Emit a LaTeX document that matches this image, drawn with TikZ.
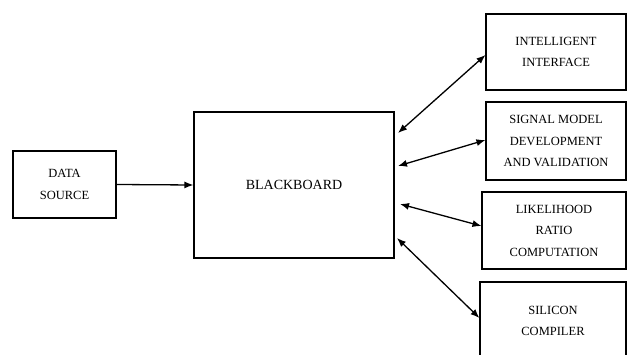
\documentclass[tikz,border=0pt]{standalone}
\usepackage{fontspec}
\setmainfont{Liberation Serif}
\usetikzlibrary{arrows.meta}
\begin{document}
\begin{tikzpicture}[x=1pt,y=-1pt,
  box/.style={draw,line width=1.1pt,inner sep=0pt,align=center,
    font=\fontsize{12.5}{21.5}\selectfont},
  dbl/.style={line width=1.3pt,{Latex[length=9pt,width=7pt]}-{Latex[length=9pt,width=7pt]}},
  sgl/.style={line width=1.3pt,-{Latex[length=9pt,width=7pt]}}]
\useasboundingbox (0,0) rectangle (628,355);
\clip (0,0) rectangle (628,355);
\node[box,minimum width=103pt,minimum height=67pt] (ds) at (64.5,184.5) {DATA\\SOURCE};
\node[box,minimum width=200pt,minimum height=146pt,font=\fontsize{14}{15}\selectfont] (bb) at (294,185) {BLACKBOARD};
\node[box,minimum width=140pt,minimum height=76pt] (ii) at (556,52) {INTELLIGENT\\INTERFACE};
\node[box,minimum width=140pt,minimum height=78pt] (sm) at (556,141) {SIGNAL MODEL\\DEVELOPMENT\\AND VALIDATION};
\node[box,minimum width=144pt,minimum height=77pt] (lr) at (554,230.5) {LIKELIHOOD\\RATIO\\COMPUTATION};
\node[box,minimum width=146pt,minimum height=78pt,text depth=0pt] (sc) at (553,321) {SILICON\\COMPILER};
\coordinate (b1) at (398,133);
\coordinate (b2) at (398,166);
\coordinate (b3) at (400,204);
\coordinate (b4) at (397,238);
\draw[sgl] (ds.east) -- (bb.west);
\draw[dbl] (b1) -- ([yshift=-3pt]ii.west);
\draw[dbl] (b2) -- ([yshift=1pt]sm.west);
\draw[dbl] (b3) -- ([yshift=4.5pt]lr.west);
\draw[dbl] (b4) -- ([yshift=3pt]sc.west);
\end{tikzpicture}
\end{document}
